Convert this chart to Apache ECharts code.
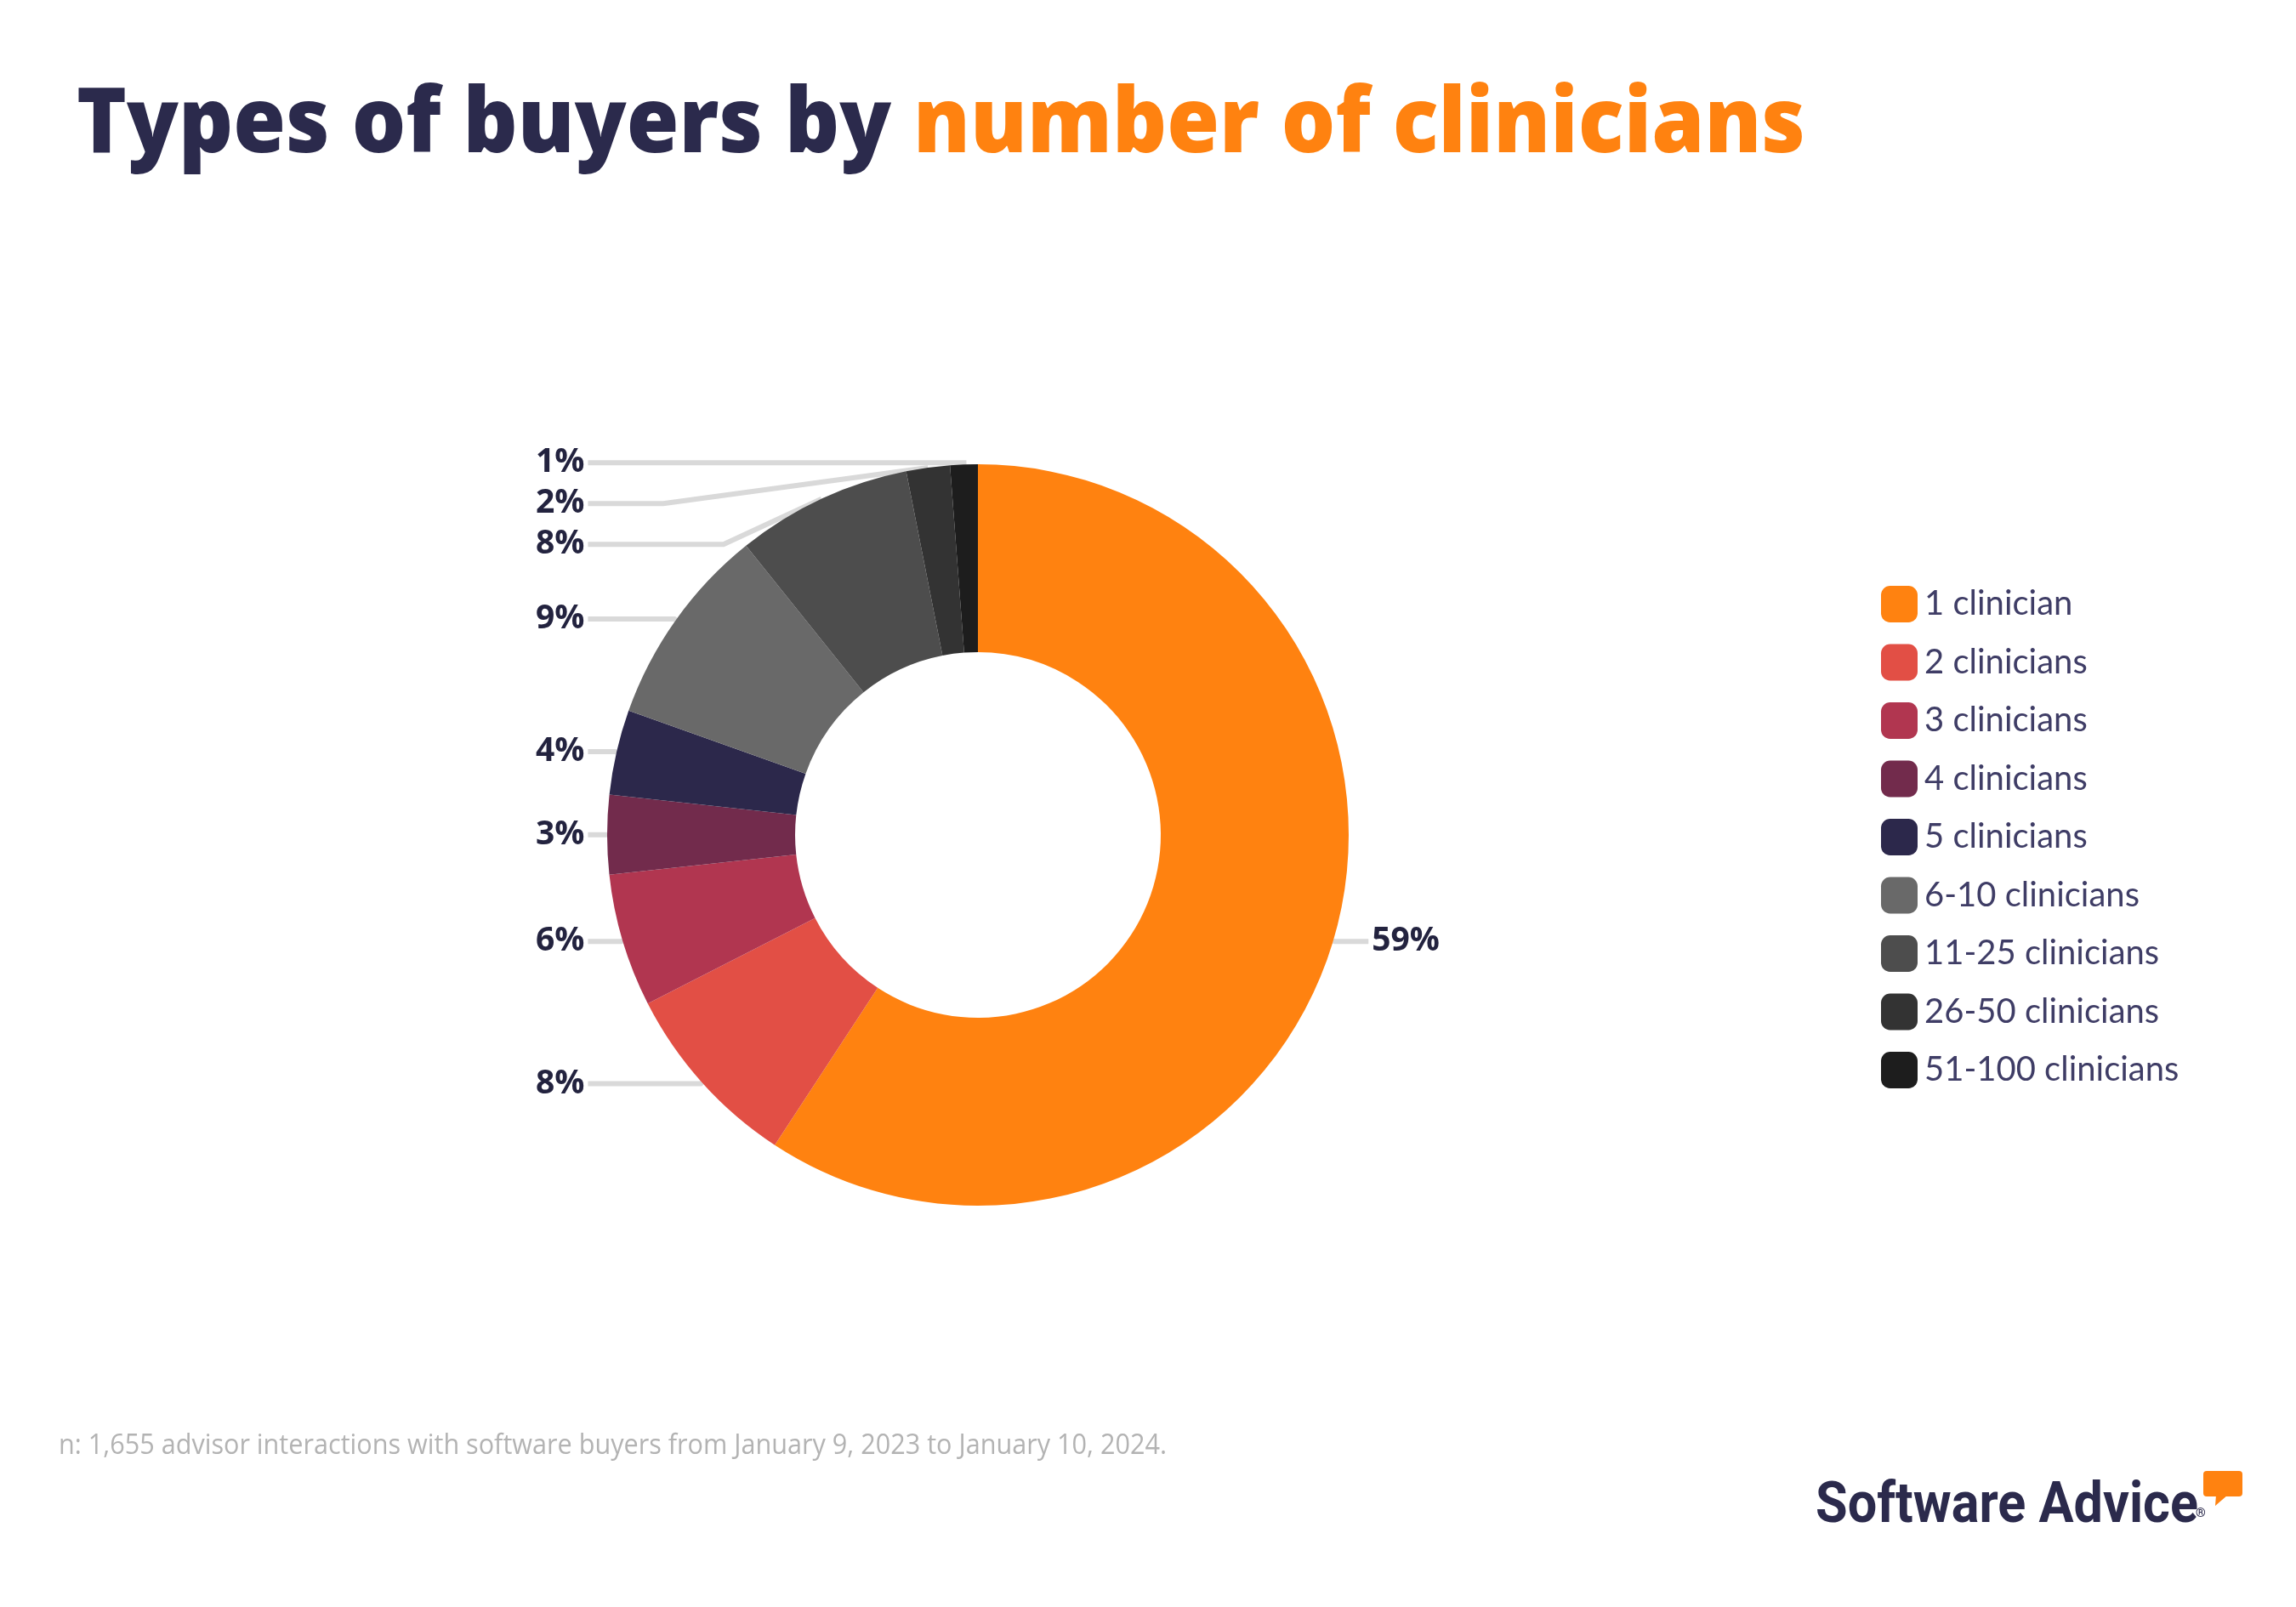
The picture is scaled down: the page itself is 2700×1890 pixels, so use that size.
<!DOCTYPE html>
<html>
<head>
<meta charset="utf-8">
<script src="https://cdn.jsdelivr.net/npm/echarts@6/dist/echarts.min.js"></script>
<style>
  html, body { margin: 0; padding: 0; background: #ffffff; }
  #chart { width: 2700px; height: 1890px; }
</style>
</head>
<body>
<div id="chart"></div>
<script>
const categories = ['1 clinician', '2 clinicians', '3 clinicians', '4 clinicians', '5 clinicians',
  '6-10 clinicians', '11-25 clinicians', '26-50 clinicians', '51-100 clinicians'];
// shares (labels show them rounded)
const values = [59.2, 8.25, 5.8, 3.45, 3.7, 8.8, 7.65, 1.9, 1.2];
const colors = ['#FF8210', '#E24F45', '#B13650', '#722B4C', '#2C284B', '#696969', '#4D4D4D', '#333333', '#1D1D1D'];
const titleDark = 'Types of buyers by ';
const titleOrange = 'number of clinicians';
const footnote = 'n: 1,655 advisor interactions with software buyers from January 9, 2023 to January 10, 2024.';
const logoText = 'Software Advice';

function measure(text, font) {
  const c = document.createElement('canvas').getContext('2d');
  c.font = font;
  return c.measureText(text).width;
}
const titleFont = '800 106px "Open Sans"';
const titleScale = 2033 / measure(titleDark + titleOrange, titleFont);
const footFont = '32px "Open Sans"';
const footScale = 1303 / measure(footnote, footFont);
const logoFont = 'bold 66px Roboto';
const logoScale = 450 / measure(logoText, logoFont);

const chart = echarts.init(document.getElementById('chart'), null, { renderer: 'canvas' });

const pieData = categories.map((c, i) => ({ name: c, value: values[i], itemStyle: { color: colors[i] } }));

const pieLeft = 630, pieRight = 1693;

chart.setOption({
  backgroundColor: '#ffffff',
  animation: false,
  legend: {
    orient: 'vertical',
    left: 2207,
    top: 684,
    itemWidth: 43,
    itemHeight: 43,
    itemGap: 25.5,
    icon: 'roundRect',
    data: categories,
    textStyle: {
      fontFamily: 'Lato',
      fontSize: 40,
      color: '#3F3D66',
      lineHeight: 43,
      padding: [0, 0, 0, 3]
    }
  },
  series: [{
    type: 'pie',
    left: pieLeft,
    width: pieRight - pieLeft,
    top: 0,
    height: 1890,
    center: [1150 - pieLeft, 982],
    radius: [215, 436],
    startAngle: 90,
    clockwise: true,
    avoidLabelOverlap: true,
    data: pieData,
    label: {
      show: true,
      position: 'outside',
      alignTo: 'edge',
      edgeDistance: 0,
      formatter: p => Math.round(p.value) + '%',
      fontFamily: 'Open Sans',
      fontWeight: 700,
      fontSize: 39,
      lineHeight: 46,
      color: '#23233F',
      distanceToLabelLine: 4
    },
    labelLine: {
      show: true,
      length: 2,
      length2: 14,
      smooth: false,
      lineStyle: { color: '#D9D9D9', width: 6 }
    },
    emphasis: { disabled: true }
  }],
  graphic: [
    {
      type: 'text',
      x: 90,
      y: 89,
      scaleX: titleScale,
      style: {
        text: '{a|' + titleDark + '}{b|' + titleOrange + '}',
        verticalAlign: 'top',
        rich: {
          a: { font: titleFont, fill: '#2B2A4C', lineHeight: 120 },
          b: { font: titleFont, fill: '#FF8210', lineHeight: 120 }
        }
      }
    },
    {
      type: 'text',
      x: 69,
      y: 1701,
      scaleX: footScale,
      style: {
        text: footnote,
        font: footFont,
        fill: '#B3B3B3',
        verticalAlign: 'middle'
      }
    },
    {
      type: 'text',
      x: 2135,
      y: 1740,
      scaleX: logoScale,
      style: {
        text: logoText,
        font: logoFont,
        fill: '#2B2A4C',
        verticalAlign: 'top'
      }
    },
    {
      type: 'text',
      x: 2582,
      y: 1780,
      style: { text: '®', font: 'bold 15px Roboto', fill: '#2B2A4C', verticalAlign: 'middle' }
    },
    {
      type: 'rect',
      shape: { x: 2591, y: 1730, width: 46, height: 30, r: 4 },
      style: { fill: '#FF8210' }
    },
    {
      type: 'polygon',
      shape: { points: [[2599, 1758], [2606, 1758], [2605, 1771], [2620, 1758], [2630, 1758]] },
      style: { fill: '#FF8210' }
    }
  ]
});
</script>
</body>
</html>
